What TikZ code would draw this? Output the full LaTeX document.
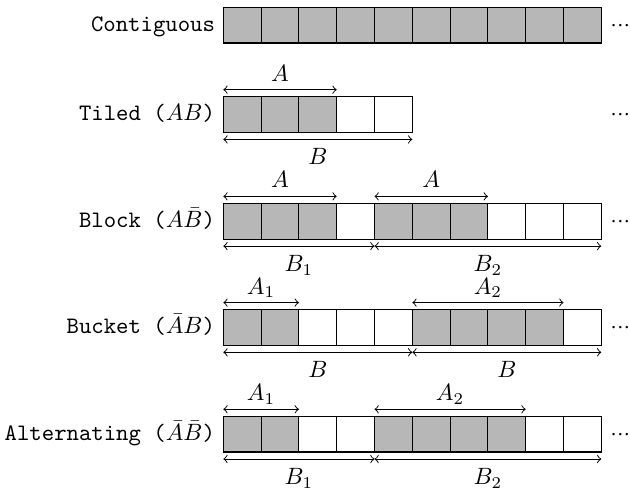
\documentclass[tikz,border=0pt]{standalone}
\definecolor{cellgray}{RGB}{183,183,183}
\begin{document}
\begin{tikzpicture}[x=0.4237pt,y=-0.4237pt,
  cell/.style={draw, line width=0.5pt, minimum width=16.02pt, minimum height=15.13pt,
    inner sep=0pt, outer sep=0pt, anchor=north west},
  g cell/.style={cell, fill=cellgray},
  w cell/.style={cell, fill=white},
  dim/.style={<->, line width=0.4pt},
  lab above/.style={anchor=base, inner sep=0pt, yshift=3.6pt},
  lab below/.style={anchor=base, inner sep=0pt, yshift=-10.8pt},
  rowlab/.style={anchor=base east},
  more/.style={anchor=base west, inner sep=0pt}]
\useasboundingbox (0,0) rectangle (630,489);

% rows of cells
\foreach \nm/\tp/\types in {c/7.3/{g,g,g,g,g,g,g,g,g,g},
                            t/96.7/{g,g,g,w,w},
                            k/203.4/{g,g,g,w,g,g,g,w,w,w},
                            u/309.6/{g,g,w,w,w,g,g,g,g,w},
                            a/416.3/{g,g,w,w,g,g,g,g,w,w}} {
  \foreach \t [count=\i from 0] in \types {
    \node[\t\space cell] (\nm\i) at ({223.3+37.8*\i},\tp) {};
  }
}

% row labels
\node[rowlab] (lc) at (223.3,31.0) {\texttt{Contiguous}};
\node[rowlab] (lt) at (223.3,120.4) {\texttt{Tiled (}$AB$\texttt{)}};
\node[rowlab] (lk) at (223.3,227.1) {\texttt{Block (}$A\bar{B}$\texttt{)}};
\node[rowlab] (lu) at (223.3,333.3) {\texttt{Bucket (}$\bar{A}B$\texttt{)}};
\node[rowlab] (la) at (223.3,440.0) {\texttt{Alternating (}$\bar{A}\bar{B}$\texttt{)}};

% continuation dots
\node[more] (mc) at (610,31.2) {${\cdot}{\cdot}{\cdot}$};
\node[more] (mt) at (610,120.4) {${\cdot}{\cdot}{\cdot}$};
\node[more] (mk) at (610,227.1) {${\cdot}{\cdot}{\cdot}$};
\node[more] (mu) at (610,333.3) {${\cdot}{\cdot}{\cdot}$};
\node[more] (ma) at (610,440.0) {${\cdot}{\cdot}{\cdot}$};

% Tiled
\draw[dim] ([yshift=2.97pt]t0.north west) -- node[lab above] (tA) {$A$} ([yshift=2.97pt]t2.north east);
\draw[dim] ([yshift=-2.97pt]t0.south west) -- node[lab below] (tB) {$B$} ([yshift=-2.97pt]t4.south east);

% Block
\draw[dim] ([yshift=2.97pt]k0.north west) -- node[lab above] (kA1) {$A$} ([yshift=2.97pt]k2.north east);
\draw[dim] ([yshift=2.97pt]k4.north west) -- node[lab above] (kA2) {$A$} ([yshift=2.97pt]k6.north east);
\draw[dim] ([yshift=-2.97pt]k0.south west) -- node[lab below] (kB1) {$B_1$} ([yshift=-2.97pt]k3.south east);
\draw[dim] ([yshift=-2.97pt]k4.south west) -- node[lab below] (kB2) {$B_2$} ([yshift=-2.97pt]k9.south east);

% Bucket
\draw[dim] ([yshift=2.97pt]u0.north west) -- node[lab above] (uA1) {$A_1$} ([yshift=2.97pt]u1.north east);
\draw[dim] ([yshift=2.97pt]u5.north west) -- node[lab above] (uA2) {$A_2$} ([yshift=2.97pt]u8.north east);
\draw[dim] ([yshift=-2.97pt]u0.south west) -- node[lab below] (uB1) {$B$} ([yshift=-2.97pt]u4.south east);
\draw[dim] ([yshift=-2.97pt]u5.south west) -- node[lab below] (uB2) {$B$} ([yshift=-2.97pt]u9.south east);

% Alternating
\draw[dim] ([yshift=2.97pt]a0.north west) -- node[lab above] (aA1) {$A_1$} ([yshift=2.97pt]a1.north east);
\draw[dim] ([yshift=2.97pt]a4.north west) -- node[lab above] (aA2) {$A_2$} ([yshift=2.97pt]a7.north east);
\draw[dim] ([yshift=-2.97pt]a0.south west) -- node[lab below] (aB1) {$B_1$} ([yshift=-2.97pt]a3.south east);
\draw[dim] ([yshift=-2.97pt]a4.south west) -- node[lab below] (aB2) {$B_2$} ([yshift=-2.97pt]a9.south east);
\end{tikzpicture}
\end{document}
